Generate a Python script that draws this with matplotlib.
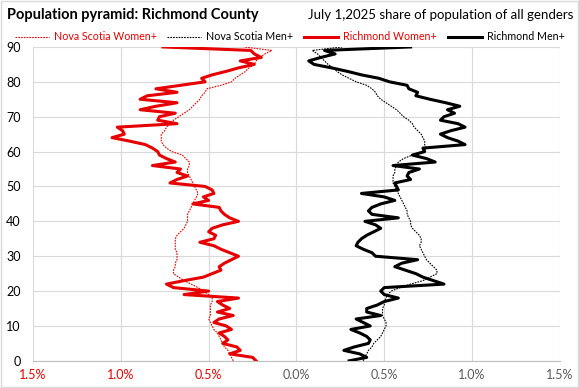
import matplotlib.pyplot as plt
from matplotlib.patches import Rectangle
from matplotlib.ticker import FuncFormatter

plt.rcParams['font.family'] = ['Lato', 'DejaVu Sans']

# ages 0..90 (90 = 90+), share of total population in %
ages = list(range(91))

ns_women = [0.36, 0.37, 0.38, 0.39, 0.41, 0.42, 0.43, 0.44, 0.45, 0.47,
            0.48, 0.49, 0.50, 0.49, 0.49, 0.49, 0.49, 0.48, 0.48, 0.50,
            0.53, 0.56, 0.60, 0.64, 0.67, 0.70, 0.70, 0.69, 0.69, 0.68,
            0.68, 0.68, 0.69, 0.69, 0.69, 0.69, 0.68, 0.66, 0.64, 0.63,
            0.62, 0.62, 0.62, 0.61, 0.60, 0.59, 0.58, 0.57, 0.56, 0.57,
            0.58, 0.59, 0.60, 0.61, 0.62, 0.62, 0.61, 0.61, 0.63, 0.65,
            0.71, 0.74, 0.76, 0.77, 0.77, 0.77, 0.75, 0.74, 0.72, 0.70,
            0.67, 0.64, 0.61, 0.59, 0.57, 0.55, 0.54, 0.52, 0.51, 0.43,
            0.37, 0.35, 0.32, 0.29, 0.27, 0.24, 0.23, 0.21, 0.18, 0.14,
            0.30]

ns_men = [0.38, 0.39, 0.40, 0.41, 0.43, 0.44, 0.46, 0.48, 0.49, 0.50,
          0.51, 0.51, 0.50, 0.49, 0.49, 0.49, 0.50, 0.50, 0.51, 0.52,
          0.54, 0.59, 0.65, 0.72, 0.76, 0.80, 0.80, 0.78, 0.76, 0.74,
          0.73, 0.72, 0.71, 0.70, 0.71, 0.71, 0.70, 0.68, 0.66, 0.65,
          0.65, 0.64, 0.63, 0.63, 0.62, 0.61, 0.60, 0.59, 0.58, 0.57,
          0.56, 0.55, 0.55, 0.55, 0.56, 0.56, 0.57, 0.58, 0.61, 0.66,
          0.72, 0.74, 0.73, 0.73, 0.72, 0.71, 0.69, 0.67, 0.66, 0.64,
          0.61, 0.59, 0.57, 0.54, 0.51, 0.48, 0.46, 0.45, 0.43, 0.40,
          0.34, 0.30, 0.26, 0.23, 0.21, 0.18, 0.16, 0.14, 0.12, 0.09,
          0.26]

richmond_women = [0.23, 0.25, 0.38, 0.32, 0.34, 0.42, 0.39, 0.41, 0.44, 0.37,
                  0.40, 0.47, 0.44, 0.36, 0.45, 0.38, 0.42, 0.45, 0.33, 0.64,
                  0.50, 0.70, 0.74, 0.64, 0.53, 0.48, 0.43, 0.44, 0.41, 0.37,
                  0.33, 0.38, 0.43, 0.47, 0.55, 0.47, 0.46, 0.50, 0.48, 0.42,
                  0.33, 0.38, 0.41, 0.43, 0.44, 0.59, 0.50, 0.53, 0.47, 0.48,
                  0.52, 0.72, 0.68, 0.62, 0.68, 0.66, 0.82, 0.69, 0.74, 0.78,
                  0.79, 0.82, 0.86, 0.95, 1.05, 0.98, 0.99, 1.02, 0.68, 0.79,
                  0.78, 0.69, 0.89, 0.80, 0.68, 0.89, 0.85, 0.68, 0.80, 0.66,
                  0.52, 0.54, 0.48, 0.40, 0.33, 0.24, 0.32, 0.20, 0.24, 0.26,
                  0.76]

richmond_men = [0.30, 0.40, 0.36, 0.27, 0.33, 0.41, 0.42, 0.40, 0.36, 0.31,
                0.42, 0.38, 0.34, 0.48, 0.40, 0.40, 0.46, 0.50, 0.58, 0.50,
                0.48, 0.50, 0.84, 0.78, 0.72, 0.68, 0.62, 0.56, 0.60, 0.69,
                0.45, 0.43, 0.38, 0.34, 0.35, 0.37, 0.40, 0.44, 0.48, 0.45,
                0.39, 0.58, 0.43, 0.41, 0.43, 0.48, 0.56, 0.50, 0.37, 0.58,
                0.57, 0.56, 0.65, 0.63, 0.64, 0.70, 0.55, 0.79, 0.74, 0.66,
                0.73, 0.72, 0.96, 0.92, 0.86, 0.82, 0.88, 0.96, 0.92, 0.82,
                0.84, 0.90, 0.86, 0.93, 0.85, 0.76, 0.68, 0.69, 0.64, 0.63,
                0.53, 0.47, 0.37, 0.29, 0.20, 0.10, 0.07, 0.14, 0.22, 0.16,
                0.65]

x_ticks = [-1.5, -1.0, -0.5, 0.0, 0.5, 1.0, 1.5]
y_ticks = list(range(0, 91, 10))

red = '#E60000'
grey_txt = '#595959'

fig = plt.figure(figsize=(5.79, 3.88), dpi=100)
ax = fig.add_axes([0.057, 0.07, 0.91, 0.809])

# women on the left (negative side)
ax.plot([-v for v in ns_women], ages, color=red, linewidth=0.8, linestyle=(0, (1.5, 1)),
        label='Nova Scotia Women+', zorder=3)
ax.plot(ns_men, ages, color='black', linewidth=0.8, linestyle=(0, (1.5, 1)),
        label='Nova Scotia Men+', zorder=3)
ax.plot([-v for v in richmond_women], ages, color=red, linewidth=2.2,
        label='Richmond Women+', zorder=4)
ax.plot(richmond_men, ages, color='black', linewidth=2.2,
        label='Richmond Men+', zorder=4)

ax.set_xlim(-1.5, 1.5)
ax.set_ylim(0, 90)
ax.set_xticks(x_ticks)
ax.set_yticks(y_ticks)
ax.xaxis.set_major_formatter(FuncFormatter(lambda v, p: f'{abs(v):.1f}%'))
ax.grid(True, color='#D9D9D9', linewidth=0.8)
ax.set_axisbelow(True)
for s in ['top', 'right', 'left']:
    ax.spines[s].set_visible(False)
ax.spines['bottom'].set_color('#BFBFBF')
ax.tick_params(length=0, labelsize=9, colors=grey_txt, pad=6)
ax.tick_params(axis='y', colors='black', pad=9)
for lbl, v in zip(ax.get_xticklabels(), x_ticks):
    if v < 0:
        lbl.set_color(red)

fig.text(0.012, 0.962, 'Population pyramid: Richmond County', fontsize=10.5,
         fontweight='bold', va='center', ha='left')
fig.text(0.99, 0.962, 'July 1,2025 share of population of all genders', fontsize=9.5,
         va='center', ha='right')

leg = fig.legend(loc='center', bbox_to_anchor=(0.5, 0.905), ncol=4, frameon=False,
                 fontsize=7.7, handlelength=3.2, handletextpad=0.45, columnspacing=1.0,
                 borderpad=0.2, labelcolor='linecolor')

fig.patches.append(Rectangle((0.002, 0.003), 0.996, 0.994, transform=fig.transFigure,
                             fill=False, edgecolor='#D9D9D9', linewidth=1))

fig.savefig('out.png', dpi=100)
